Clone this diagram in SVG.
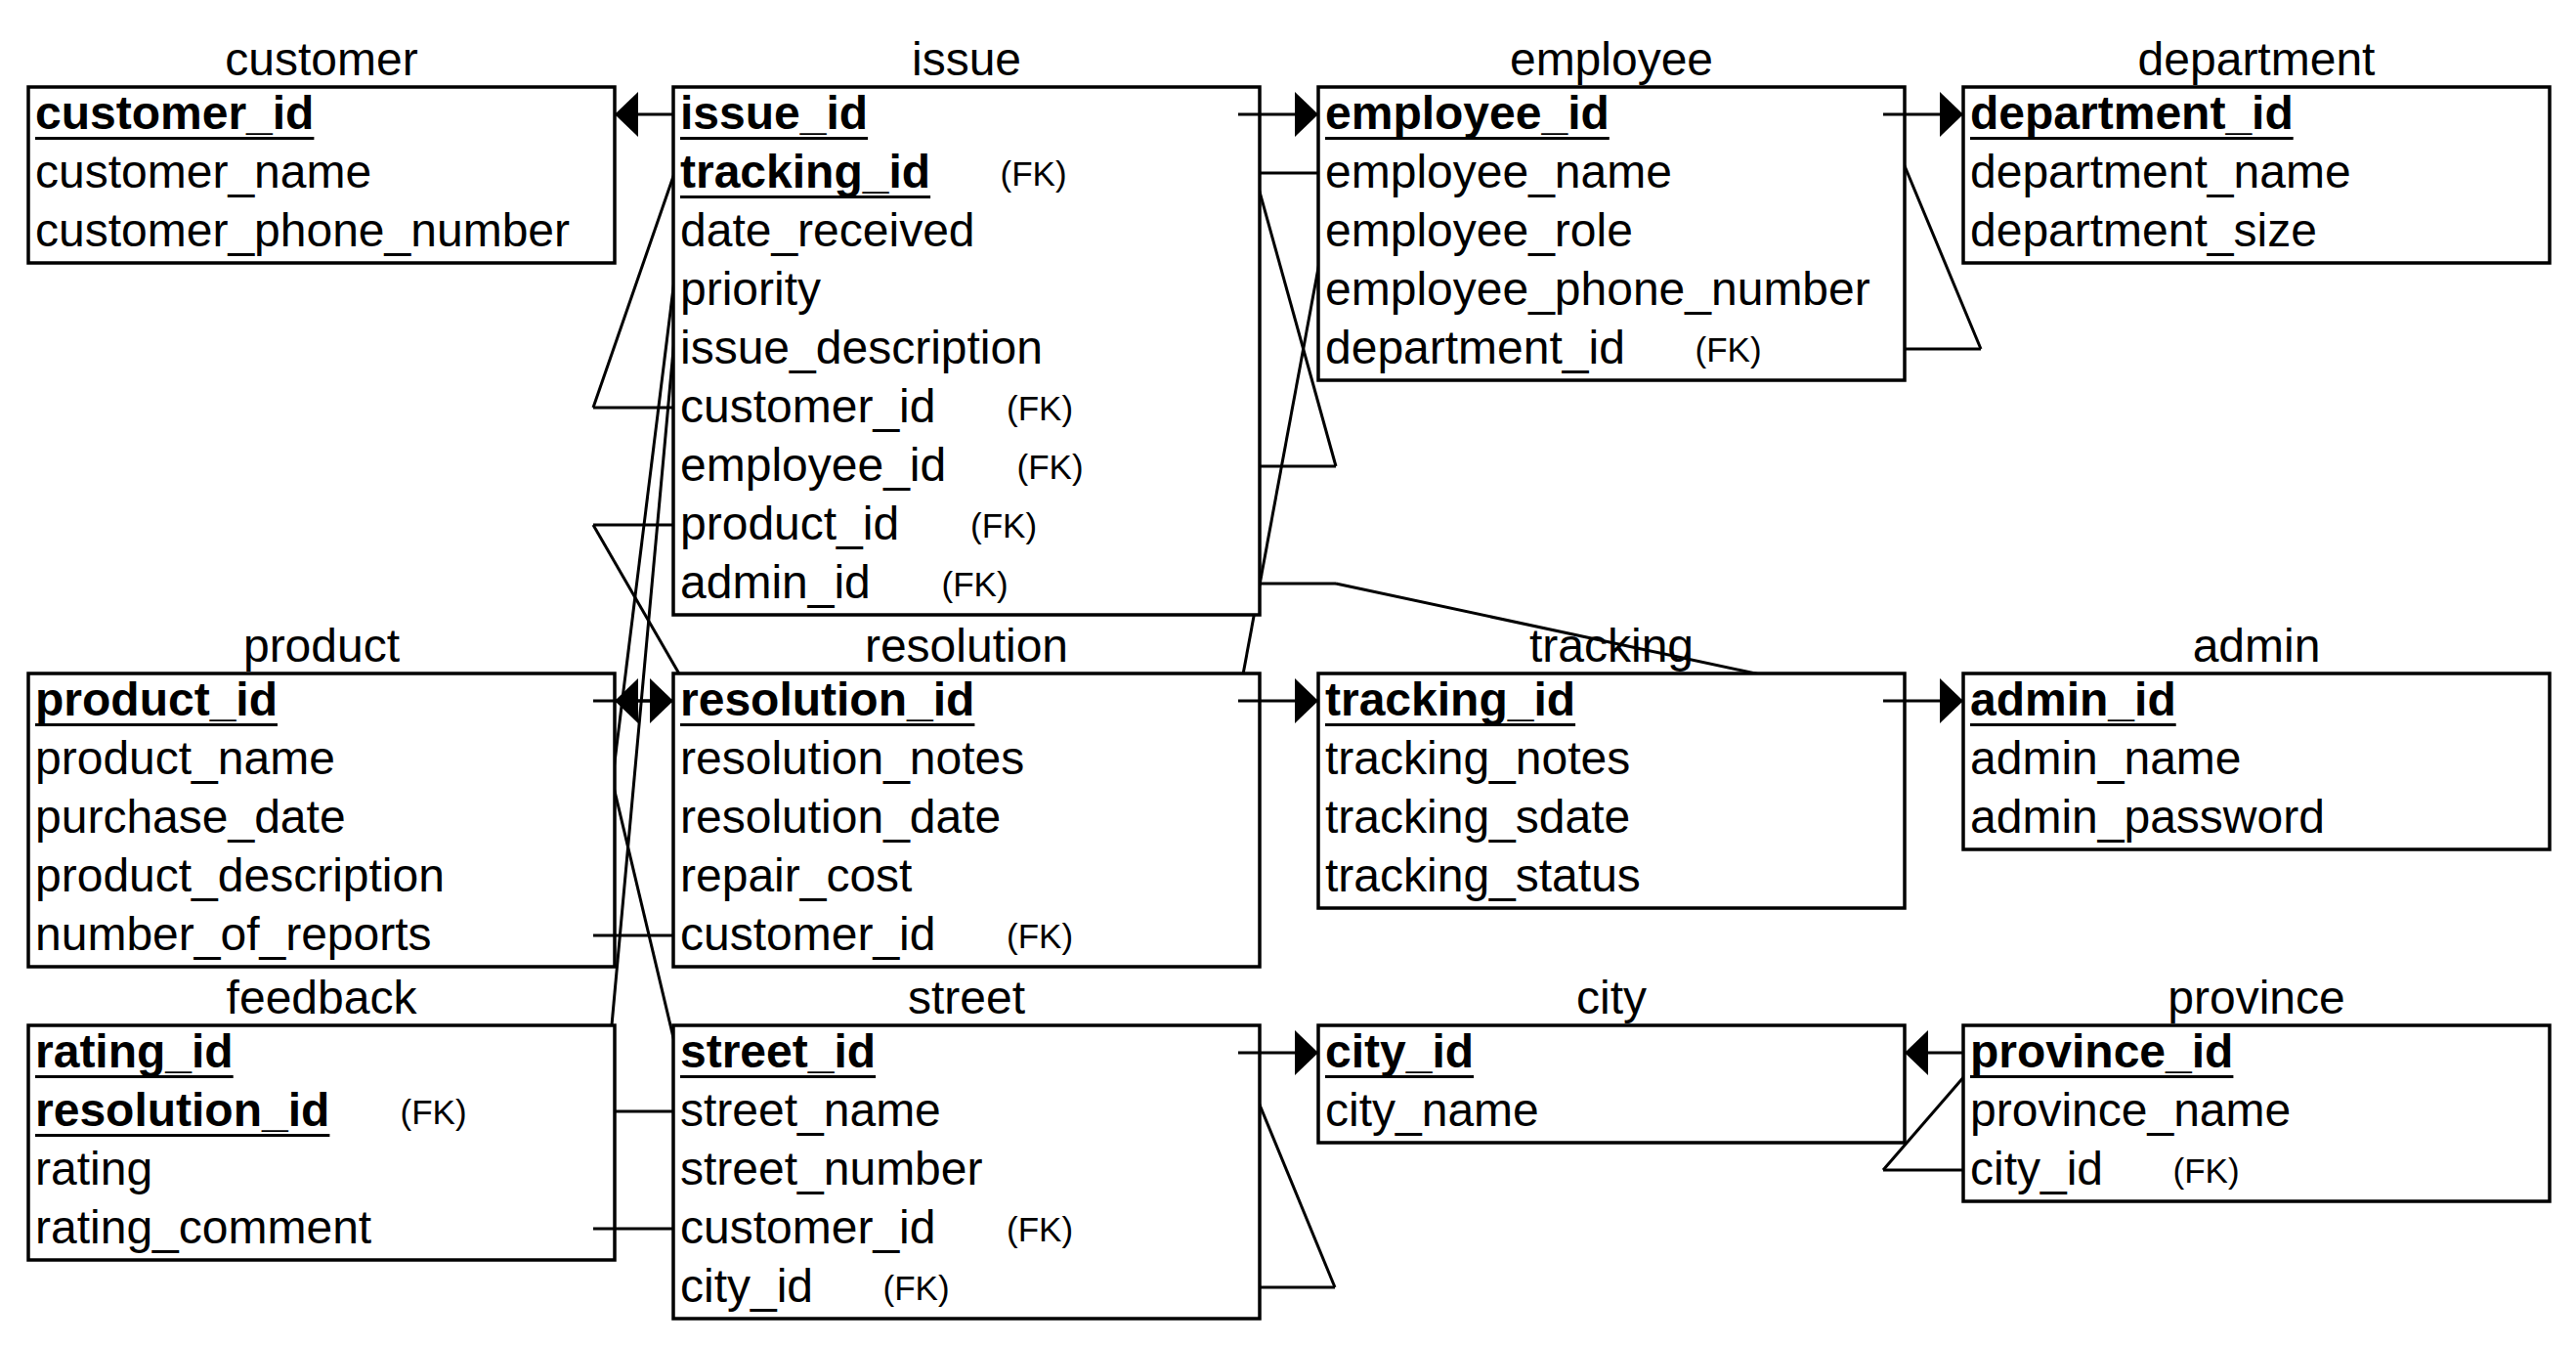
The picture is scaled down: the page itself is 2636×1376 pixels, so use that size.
<svg xmlns="http://www.w3.org/2000/svg" width="2636" height="1376" viewBox="0 0 2636 1376">
<style>
text{font-family:"Liberation Sans",Arial,sans-serif;fill:#000}
.t{font-size:48px;text-anchor:middle}
.f{font-size:48px}
.pk{font-size:48px;font-weight:bold}
.fk{font-size:35px}
.box{fill:#fff;stroke:#000;stroke-width:3.5}
.ul{stroke:#000;stroke-width:3}
.ln{fill:none;stroke:#000;stroke-width:3}
.ar{fill:none;stroke:#000;stroke-width:3;marker-end:url(#arr)}
</style>
<defs>
<marker id="arr" markerUnits="userSpaceOnUse" markerWidth="26" markerHeight="48" refX="24" refY="23" orient="auto" viewBox="0 0 26 48">
<path d="M0,0 L24,23 L0,46 Z" fill="#000"/>
</marker>
<mask id="boxmask" maskUnits="userSpaceOnUse" x="0" y="0" width="2636" height="1376">
<rect x="0" y="0" width="2636" height="1376" fill="#fff"/>
<g fill="#000">
<rect x="29" y="89" width="600" height="180"/>
<rect x="689" y="89" width="600" height="540"/>
<rect x="1349" y="89" width="600" height="300"/>
<rect x="2009" y="89" width="600" height="180"/>
<rect x="29" y="689" width="600" height="300"/>
<rect x="689" y="689" width="600" height="300"/>
<rect x="1349" y="689" width="600" height="240"/>
<rect x="2009" y="689" width="600" height="180"/>
<rect x="29" y="1049" width="600" height="240"/>
<rect x="689" y="1049" width="600" height="300"/>
<rect x="1349" y="1049" width="600" height="120"/>
<rect x="2009" y="1049" width="600" height="180"/>
</g>
</mask>
</defs>
<rect x="0" y="0" width="2636" height="1376" fill="#fff"/>

<g id="customer">
<text class="t" x="329" y="77">customer</text>
<rect class="box" x="29" y="89" width="600" height="180"/>
<text class="pk" x="36" y="132">customer_id</text>
<line class="ul" x1="36" y1="141.5" x2="321.4" y2="141.5"/>
<text class="f" x="36" y="192">customer_name</text>
<text class="f" x="36" y="252">customer_phone_number</text>
</g>

<g id="issue">
<text class="t" x="989" y="77">issue</text>
<rect class="box" x="689" y="89" width="600" height="540"/>
<text class="pk" x="696" y="132">issue_id</text>
<line class="ul" x1="696" y1="141.5" x2="888.1" y2="141.5"/>
<text class="pk" x="696" y="192">tracking_id</text>
<line class="ul" x1="696" y1="201.5" x2="952.1" y2="201.5"/>
<text class="fk" x="1023.5" y="190">(FK)</text>
<text class="f" x="696" y="252">date_received</text>
<text class="f" x="696" y="312">priority</text>
<text class="f" x="696" y="372">issue_description</text>
<text class="f" x="696" y="432">customer_id</text>
<text class="fk" x="1030" y="430">(FK)</text>
<text class="f" x="696" y="492">employee_id</text>
<text class="fk" x="1040.5" y="490">(FK)</text>
<text class="f" x="696" y="552">product_id</text>
<text class="fk" x="993" y="550">(FK)</text>
<text class="f" x="696" y="612">admin_id</text>
<text class="fk" x="963.5" y="610">(FK)</text>
</g>

<g id="employee">
<text class="t" x="1649" y="77">employee</text>
<rect class="box" x="1349" y="89" width="600" height="300"/>
<text class="pk" x="1356" y="132">employee_id</text>
<line class="ul" x1="1356" y1="141.5" x2="1646.8" y2="141.5"/>
<text class="f" x="1356" y="192">employee_name</text>
<text class="f" x="1356" y="252">employee_role</text>
<text class="f" x="1356" y="312">employee_phone_number</text>
<text class="f" x="1356" y="372">department_id</text>
<text class="fk" x="1734.5" y="370">(FK)</text>
</g>

<g id="department">
<text class="t" x="2309" y="77">department</text>
<rect class="box" x="2009" y="89" width="600" height="180"/>
<text class="pk" x="2016" y="132">department_id</text>
<line class="ul" x1="2016" y1="141.5" x2="2346.7" y2="141.5"/>
<text class="f" x="2016" y="192">department_name</text>
<text class="f" x="2016" y="252">department_size</text>
</g>

<g id="product">
<text class="t" x="329" y="677">product</text>
<rect class="box" x="29" y="689" width="600" height="300"/>
<text class="pk" x="36" y="732">product_id</text>
<line class="ul" x1="36" y1="741.5" x2="284" y2="741.5"/>
<text class="f" x="36" y="792">product_name</text>
<text class="f" x="36" y="852">purchase_date</text>
<text class="f" x="36" y="912">product_description</text>
<text class="f" x="36" y="972">number_of_reports</text>
</g>

<g id="resolution">
<text class="t" x="989" y="677">resolution</text>
<rect class="box" x="689" y="689" width="600" height="300"/>
<text class="pk" x="696" y="732">resolution_id</text>
<line class="ul" x1="696" y1="741.5" x2="997.4" y2="741.5"/>
<text class="f" x="696" y="792">resolution_notes</text>
<text class="f" x="696" y="852">resolution_date</text>
<text class="f" x="696" y="912">repair_cost</text>
<text class="f" x="696" y="972">customer_id</text>
<text class="fk" x="1030" y="970">(FK)</text>
</g>

<g id="tracking">
<text class="t" x="1649" y="677">tracking</text>
<rect class="box" x="1349" y="689" width="600" height="240"/>
<text class="pk" x="1356" y="732">tracking_id</text>
<line class="ul" x1="1356" y1="741.5" x2="1612.1" y2="741.5"/>
<text class="f" x="1356" y="792">tracking_notes</text>
<text class="f" x="1356" y="852">tracking_sdate</text>
<text class="f" x="1356" y="912">tracking_status</text>
</g>

<g id="admin">
<text class="t" x="2309" y="677">admin</text>
<rect class="box" x="2009" y="689" width="600" height="180"/>
<text class="pk" x="2016" y="732">admin_id</text>
<line class="ul" x1="2016" y1="741.5" x2="2226.7" y2="741.5"/>
<text class="f" x="2016" y="792">admin_name</text>
<text class="f" x="2016" y="852">admin_password</text>
</g>

<g id="feedback">
<text class="t" x="329" y="1037">feedback</text>
<rect class="box" x="29" y="1049" width="600" height="240"/>
<text class="pk" x="36" y="1092">rating_id</text>
<line class="ul" x1="36" y1="1101.5" x2="238.7" y2="1101.5"/>
<text class="pk" x="36" y="1152">resolution_id</text>
<line class="ul" x1="36" y1="1161.5" x2="337.4" y2="1161.5"/>
<text class="fk" x="409.5" y="1150">(FK)</text>
<text class="f" x="36" y="1212">rating</text>
<text class="f" x="36" y="1272">rating_comment</text>
</g>

<g id="street">
<text class="t" x="989" y="1037">street</text>
<rect class="box" x="689" y="1049" width="600" height="300"/>
<text class="pk" x="696" y="1092">street_id</text>
<line class="ul" x1="696" y1="1101.5" x2="896.1" y2="1101.5"/>
<text class="f" x="696" y="1152">street_name</text>
<text class="f" x="696" y="1212">street_number</text>
<text class="f" x="696" y="1272">customer_id</text>
<text class="fk" x="1030" y="1270">(FK)</text>
<text class="f" x="696" y="1332">city_id</text>
<text class="fk" x="903.5" y="1330">(FK)</text>
</g>

<g id="city">
<text class="t" x="1649" y="1037">city</text>
<rect class="box" x="1349" y="1049" width="600" height="120"/>
<text class="pk" x="1356" y="1092">city_id</text>
<line class="ul" x1="1356" y1="1101.5" x2="1508.1" y2="1101.5"/>
<text class="f" x="1356" y="1152">city_name</text>
</g>

<g id="province">
<text class="t" x="2309" y="1037">province</text>
<rect class="box" x="2009" y="1049" width="600" height="180"/>
<text class="pk" x="2016" y="1092">province_id</text>
<line class="ul" x1="2016" y1="1101.5" x2="2285.4" y2="1101.5"/>
<text class="f" x="2016" y="1152">province_name</text>
<text class="f" x="2016" y="1212">city_id</text>
<text class="fk" x="2223.5" y="1210">(FK)</text>
</g>

<g id="connectors">
<g mask="url(#boxmask)" class="ln">
<path d="M607,417 L711,117"/>
<path d="M607,957 L711,117"/>
<path d="M607,1257 L711,117"/>
<path d="M607,537 L711,717"/>
<path d="M707,1137 L607,717"/>
<path d="M1367,177 L1267,717"/>
<path d="M1367,477 L1267,117"/>
<path d="M1367,597 L1927,717"/>
<path d="M2027,357 L1927,117"/>
<path d="M1366,1317 L1267,1077"/>
<path d="M1927,1197 L2031,1077"/>
</g>
<g class="ln">
<path d="M689,417 H607"/>
<path d="M689,957 H607"/>
<path d="M689,1257 H607"/>
<path d="M689,537 H607"/>
<path d="M629,1137 H689"/>
<path d="M1289,177 H1349"/>
<path d="M1289,477 H1367"/>
<path d="M1289,597 H1367"/>
<path d="M1949,357 H2027"/>
<path d="M1289,1317 H1366"/>
<path d="M2009,1197 H1927"/>
</g>
<path class="ar" d="M689,117 H629"/>
<path class="ar" d="M689,717 H629"/>
<path class="ar" d="M607,717 H689"/>
<path class="ar" d="M1267,117 H1349"/>
<path class="ar" d="M1927,117 H2009"/>
<path class="ar" d="M1267,717 H1349"/>
<path class="ar" d="M1927,717 H2009"/>
<path class="ar" d="M1267,1077 H1349"/>
<path class="ar" d="M2009,1077 H1949"/>
</g>
</svg>
